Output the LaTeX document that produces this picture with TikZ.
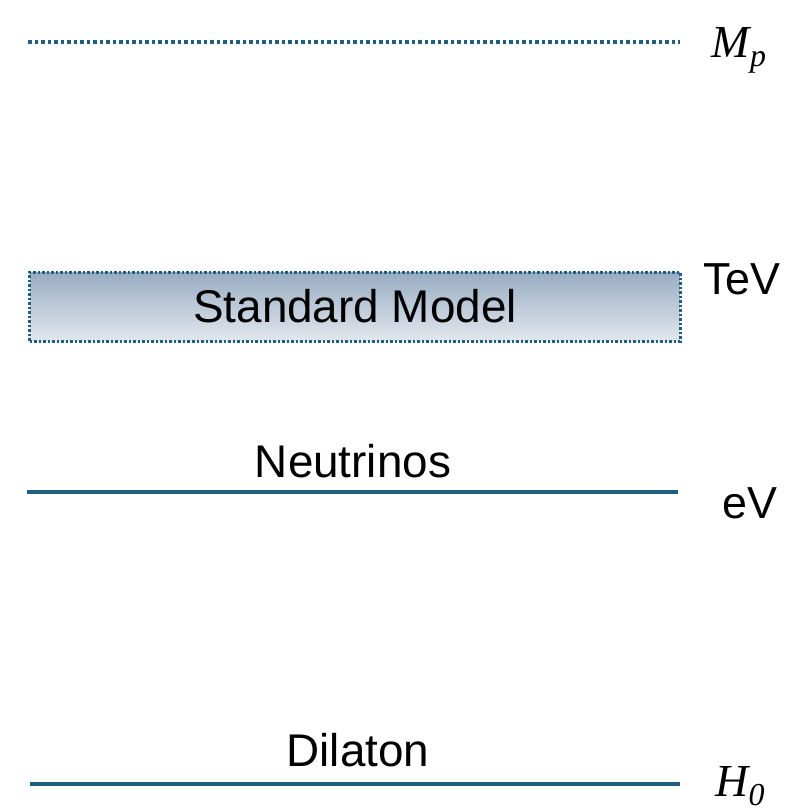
\documentclass[tikz,border=0pt]{standalone}
\usepackage{fontspec}
\setmainfont{Liberation Sans}
\newfontfamily\mathitfont{Liberation Serif}
\newcommand{\symb}[2]{{\mathitfont\itshape #1\raisebox{-0.2em}{\fontsize{32}{36}\selectfont #2}}}
\definecolor{lvl}{RGB}{31,95,127}
\definecolor{boxtop}{RGB}{152,172,195}
\definecolor{boxbot}{RGB}{226,231,237}
\begin{document}
\begin{tikzpicture}[x=1bp,y=-1bp,
  level/.style={draw=lvl,line width=4bp},
  dotlevel/.style={draw=lvl,line width=4bp,dash pattern=on 3.5bp off 3bp},
  lab/.style={font=\fontsize{46}{54}\selectfont,inner sep=0pt},
  scalelab/.style={font=\fontsize{45}{52}\selectfont,inner sep=0pt},
  mathlab/.style={font=\fontsize{46}{54}\selectfont,inner sep=0pt}]
\useasboundingbox (0,0) rectangle (803,810);
% Planck scale
\coordinate (mpL) at (28,42);
\coordinate (mpR) at (680,42);
\draw[dotlevel] (mpL) -- (mpR);
\node[mathlab] (mp) at (739,50) {\symb{M}{p}};
% Standard Model
\node[draw=lvl,line width=3bp,dash pattern=on 2.5bp off 2bp,
      top color=boxtop,bottom color=boxbot,
      minimum width=650bp,minimum height=69bp,inner sep=0pt,
      lab] (sm) at (355,306.5) {Standard Model};
\node[scalelab] (tev) at (742,279) {TeV};
% Neutrinos
\coordinate (nuL) at (27,492);
\coordinate (nuR) at (678,492);
\draw[level] (nuL) -- (nuR);
\node[lab] (nu) at (353,461) {Neutrinos};
\node[scalelab] (ev) at (750,503) {eV};
% Dilaton
\coordinate (diL) at (30,784);
\coordinate (diR) at (680,784);
\draw[level] (diL) -- (diR);
\node[lab] (dil) at (358,750) {Dilaton};
\node[mathlab] (h0) at (740,786) {\symb{H}{0}};
\end{tikzpicture}
\end{document}
